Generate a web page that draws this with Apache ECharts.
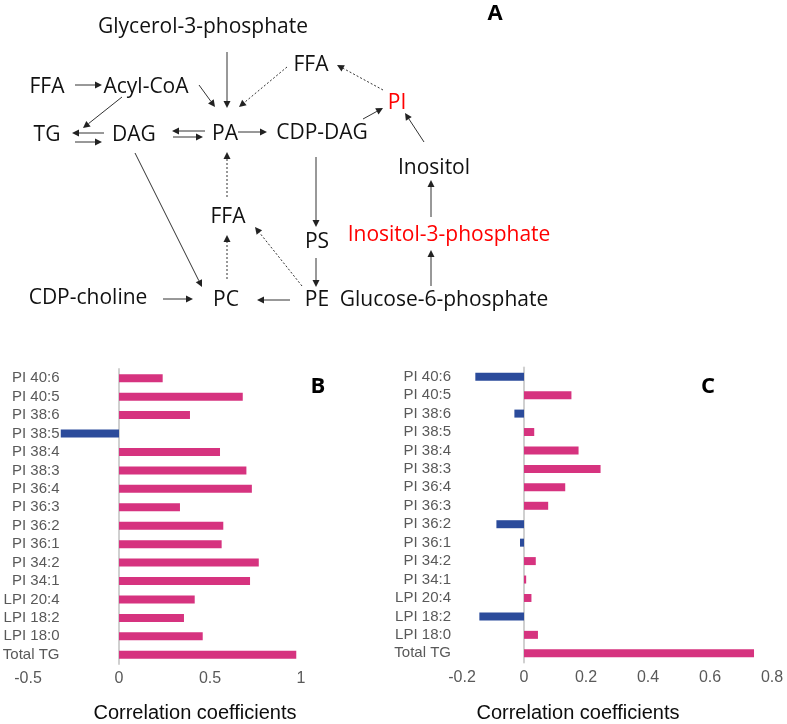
<!DOCTYPE html>
<html>
<head>
<meta charset="utf-8">
<script src="https://cdn.jsdelivr.net/npm/echarts@6/dist/echarts.min.js"></script>
<style>
html,body{margin:0;padding:0;background:#fff;}
#main{width:787px;height:724px;}
</style>
</head>
<body>
<div id="main"></div>
<script>
// ---- Data ----
const categories = ['PI 40:6','PI 40:5','PI 38:6','PI 38:5','PI 38:4','PI 38:3','PI 36:4','PI 36:3','PI 36:2','PI 36:1','PI 34:2','PI 34:1','LPI 20:4','LPI 18:2','LPI 18:0','Total TG'];
const valuesB = [0.24, 0.68, 0.39, -0.32, 0.555, 0.70, 0.73, 0.335, 0.573, 0.564, 0.768, 0.72, 0.416, 0.357, 0.46, 0.974];
const valuesC = [-0.157, 0.153, -0.031, 0.033, 0.176, 0.247, 0.133, 0.078, -0.089, -0.013, 0.038, 0.007, 0.024, -0.144, 0.045, 0.742];
const axisTitle = 'Correlation coefficients';
const panelLabels = ['A', 'B', 'C'];

// ---- Pathway diagram (panel A) ----
const nodes = [
  {t:'Glycerol-3-phosphate', x:203, y:27},
  {t:'FFA', x:311, y:65},
  {t:'FFA', x:47, y:87},
  {t:'Acyl-CoA', x:146, y:87},
  {t:'TG', x:47, y:135},
  {t:'DAG', x:134, y:135},
  {t:'PA', x:225, y:134},
  {t:'CDP-DAG', x:322, y:133},
  {t:'PI', x:397, y:103, red:true},
  {t:'Inositol', x:434, y:168},
  {t:'Inositol-3-phosphate', x:449, y:235, red:true},
  {t:'Glucose-6-phosphate', x:444, y:300},
  {t:'FFA', x:228, y:217},
  {t:'PS', x:317, y:242},
  {t:'CDP-choline', x:88, y:298},
  {t:'PC', x:226, y:300},
  {t:'PE', x:317, y:300}
];
const arrows = [
  [75,85,102,85,0],
  [122,97,83,128,0],
  [104,133,72,133,0],
  [75,142,102,142,0],
  [205,131,172,131,0],
  [173,137,203,137,0],
  [199,85,215,107,0],
  [227,52,227,108,0],
  [287,67,239,107,1],
  [238,132,267,132,0],
  [363,119,383,108,0],
  [383,90,337,65,1],
  [424,142,405,113,0],
  [431,217,431,180,0],
  [431,286,431,250,0],
  [316,157,316,227,0],
  [316,258,316,287,0],
  [290,300,257,300,0],
  [163,299,193,299,0],
  [135,153,202,287,0],
  [227,279,227,235,1],
  [227,197,227,152,1],
  [302,286,255,227,1]
];

const diagFont = '"Open Sans", Lato, sans-serif';
const graphics = [];
nodes.forEach(n => {
  graphics.push({type:'text', silent:true, style:{
    text:n.t, x:n.x, y:n.y, fill:n.red ? '#ff0000' : '#111111',
    fontSize:21, fontFamily:diagFont,
    align:'center', verticalAlign:'middle', textAlign:'center', textVerticalAlign:'middle'
  }});
});
arrows.forEach(a => {
  const [x1,y1,x2,y2,dash] = a;
  const dx = x2-x1, dy = y2-y1, L = Math.sqrt(dx*dx+dy*dy);
  const ux = dx/L, uy = dy/L;
  const hl = 7, hw = 3.5;
  const bx = x2-ux*hl, by = y2-uy*hl;
  graphics.push({type:'line', silent:true, shape:{x1:x1,y1:y1,x2:bx,y2:by},
    style:{stroke:'#333', lineWidth:1, lineDash: dash ? [2,2] : null}});
  graphics.push({type:'polygon', silent:true, shape:{points:[[x2,y2],[bx-uy*hw,by+ux*hw],[bx+uy*hw,by-ux*hw]]},
    style:{fill:'#222'}});
});
// panel letters and axis titles
const boldFont = '"Open Sans", sans-serif';
[[panelLabels[0],495,14],[panelLabels[1],318,387],[panelLabels[2],708,387]].forEach(p => {
  graphics.push({type:'text', silent:true, style:{text:p[0], x:p[1], y:p[2], fill:'#000',
    fontSize:22, fontWeight:'bold', fontFamily:boldFont,
    align:'center', verticalAlign:'middle', textAlign:'center', textVerticalAlign:'middle'}});
});
[[195,713],[578,713]].forEach(p => {
  graphics.push({type:'text', silent:true, style:{text:axisTitle, x:p[0], y:p[1], fill:'#0d0d0d',
    fontSize:20, fontFamily:'"Liberation Sans", Arial, sans-serif',
    align:'center', verticalAlign:'middle', textAlign:'center', textVerticalAlign:'middle'}});
});

const PINK = '#d6337f', BLUE = '#2b4b9b';
const labelFont = '"Liberation Sans", Arial, sans-serif';

function xAx(gi, min, max, interval) {
  return {type:'value', gridIndex:gi, min:min, max:max, interval:interval,
    axisLine:{show:false}, axisTick:{show:false}, splitLine:{show:false},
    axisLabel:{fontSize:16, color:'#595959', fontFamily:labelFont, margin:7}};
}
function yAx(gi, margin) {
  return {type:'category', gridIndex:gi, data:categories, inverse:true,
    axisLine:{show:true, onZero:true, lineStyle:{color:'#d0d0d0', width:2}},
    axisTick:{show:false},
    axisLabel:{fontSize:15, color:'#595959', fontFamily:labelFont, margin:margin, interval:0}};
}
function barSeries(gi, vals) {
  return {type:'bar', xAxisIndex:gi, yAxisIndex:gi, data:vals, barWidth:8, silent:true,
    itemStyle:{color: p => p.value < 0 ? BLUE : PINK}};
}

const chart = echarts.init(document.getElementById('main'));
chart.setOption({
  animation:false,
  backgroundColor:'#ffffff',
  grid:[
    {left:28, top:369, width:273, height:295, containLabel:false, outerBoundsMode:'none'},
    {left:462, top:367.5, width:310, height:295, containLabel:false, outerBoundsMode:'none'}
  ],
  xAxis:[xAx(0,-0.5,1,0.5), xAx(1,-0.2,0.8,0.2)],
  yAxis:[yAx(0,-31.5), yAx(1,11)],
  series:[barSeries(0,valuesB), barSeries(1,valuesC)],
  graphic:{elements:graphics}
});
</script>
</body>
</html>
